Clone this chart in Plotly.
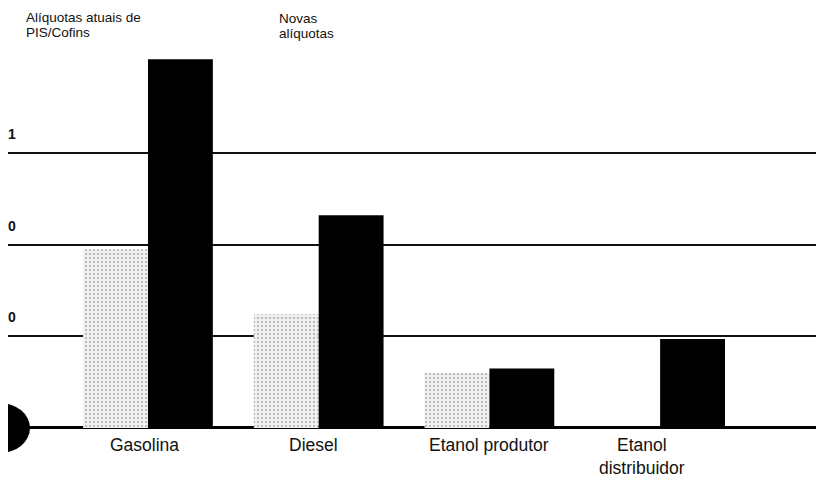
import plotly.graph_objects as go

categories = ["Gasolina", "Diesel", "Etanol produtor", "Etanol<br>distribuidor"]
atuais = [1.95, 1.24, 0.60, 0.0]
novas = [4.02, 2.32, 0.65, 0.97]
grid_vals = [1, 2, 3]
grid_labels = ["0", "0", "1"]
series_names = ["Alíquotas atuais de<br>PIS/Cofins", "Novas<br>alíquotas"]

# page body has an 8px margin; size the figure to fill the rest of the window
W, H = 816, 474
OFF = 8

xpos = list(range(len(categories)))

fig = go.Figure()
fig.add_trace(go.Bar(
    x=xpos, y=atuais, name=series_names[0],
    marker=dict(color="#ececec", line=dict(width=0),
                pattern=dict(shape=".", fgcolor="#6a6a6a", bgcolor="#f0f0f0",
                             size=4, solidity=0.22)),
))
fig.add_trace(go.Bar(
    x=xpos, y=novas, name=series_names[1],
    marker=dict(color="#000000", line=dict(width=0)),
))

fig.update_layout(
    width=W, height=H,
    margin=dict(l=0, r=0, t=0, b=0),
    paper_bgcolor="white", plot_bgcolor="white",
    barmode="group", bargap=0.24, bargroupgap=0,
    showlegend=False,
    font=dict(family="Liberation Sans, Arial, sans-serif", color="#111"),
    xaxis=dict(range=[-0.820, 3.960], showticklabels=False, showgrid=False,
               zeroline=False, showline=False, fixedrange=True),
    yaxis=dict(range=[-0.589, 4.580], tickvals=grid_vals, showticklabels=False,
               showgrid=True, gridcolor="#111", gridwidth=1.6,
               zeroline=True, zerolinecolor="#000", zerolinewidth=3,
               showline=False, fixedrange=True),
)

# y tick labels (above grid lines, at left)
for v, t in zip(grid_vals, grid_labels):
    fig.add_annotation(x=0, xref="paper", xanchor="left", xshift=-2,
                       y=v, yref="y", yanchor="bottom", yshift=9,
                       text="<b>%s</b>" % t, showarrow=False,
                       font=dict(size=14, color="#111"))

# category labels
label_shift = [-3, -5, 0, -18]
for i, (c, s) in enumerate(zip(categories, label_shift)):
    fig.add_annotation(x=i, y=0, yref="y", yanchor="top",
                       yshift=-5, xshift=s,
                       text=c, showarrow=False, align="center",
                       font=dict(size=17.5, color="#111"))

# series titles
title_x = [24, 277]
title_shift = [0, -1]
for name, tx, ts in zip(series_names, title_x, title_shift):
    for k, line in enumerate(name.split("<br>")):
        fig.add_annotation(x=(tx - OFF) / W, xref="paper", y=1, yref="paper",
                           xanchor="left", yanchor="top",
                           yshift=ts - 15 * k,
                           text=line, showarrow=False, align="left",
                           font=dict(size=13.5, color="#111"))

# scan artifact blob at left
fig.add_shape(type="circle", xref="paper", yref="paper",
              x0=(-30 - OFF) / W, x1=(30 - OFF) / W,
              y0=1 - (453 - OFF) / H, y1=1 - (403 - OFF) / H,
              fillcolor="black", line=dict(width=0))

fig.write_html("out.html")
